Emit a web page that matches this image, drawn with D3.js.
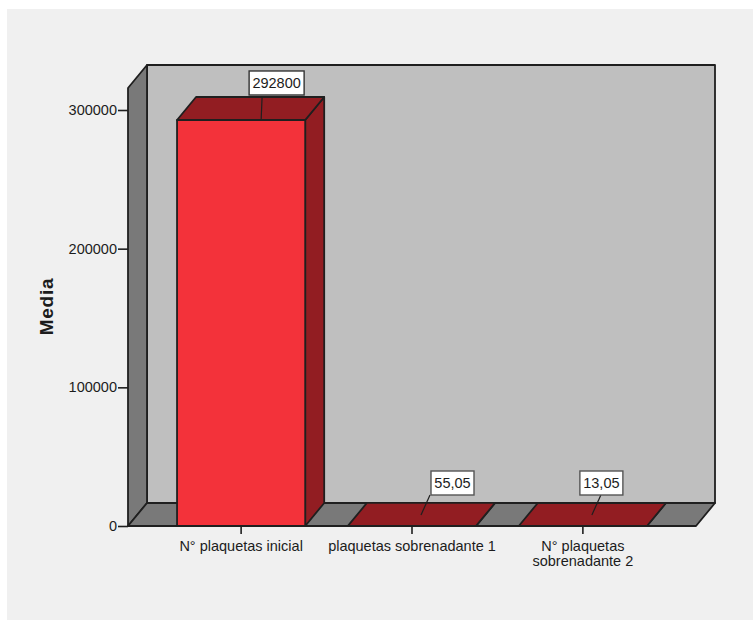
<!DOCTYPE html>
<html>
<head>
<meta charset="utf-8">
<script src="https://cdn.jsdelivr.net/npm/d3@7"></script>
<style>
  html, body { margin: 0; padding: 0; background: #fff; }
  text { font-family: "Liberation Sans", Arial, sans-serif; fill: #1c1c1c; }
</style>
</head>
<body>
<svg id="chart" width="753" height="620" style="display:block"></svg>
<script>
// Mean values per platelet measurement
const categories = ["N° plaquetas inicial", "plaquetas sobrenadante 1", "N° plaquetas sobrenadante 2"];
const categoryLines = [["N° plaquetas inicial"], ["plaquetas sobrenadante 1"], ["N° plaquetas", "sobrenadante 2"]];
const means = [292800, 55.05, 13.05];
const meanLabels = ["292800", "55,05", "13,05"];
const yTicks = [0, 100000, 200000, 300000];
const yTitle = "Media";

const ink = "#1f1f1f";
const wallFill = "#bfbfbf", sideFill = "#797979";
const frontFill = "#f3323a", shadeFill = "#921d22";
const labelSize = 14.5;

// Oblique projection offset of the 3D box
const depthX = 19, depthY = -23;

const svg = d3.select("#chart");
svg.append("rect").attr("x", 7).attr("y", 9).attr("width", 746).attr("height", 611).attr("fill", "#f0f0f0");

const y = d3.scaleLinear().domain([0, 300000]).range([526, 110]);
const x = d3.scaleBand().domain(categories).range([128, 696]).paddingInner(0.25).paddingOuter(0.287);

const leftEdge = x.range()[0], rightEdge = x.range()[1], base = y(0);
const boxTop = y(300000) - 22; // box top edge at the front

const poly = (pts, fill, sw = 1.8) => svg.append("polygon")
  .attr("points", pts.map(p => p.join(",")).join(" "))
  .attr("fill", fill).attr("stroke", ink).attr("stroke-width", sw).attr("stroke-linejoin", "round");

// Back wall, side wall, floor
poly([[leftEdge + depthX, boxTop + depthY], [rightEdge + depthX, boxTop + depthY], [rightEdge + depthX, base + depthY], [leftEdge + depthX, base + depthY]], wallFill);
poly([[leftEdge, boxTop], [leftEdge + depthX, boxTop + depthY], [leftEdge + depthX, base + depthY], [leftEdge, base]], sideFill);
poly([[leftEdge, base], [leftEdge + depthX, base + depthY], [rightEdge + depthX, base + depthY], [rightEdge, base]], sideFill);

// Bars: front face, right side and top face
categories.forEach((c, i) => {
  const x0 = x(c), x1 = x0 + x.bandwidth(), yTop = y(means[i]);
  poly([[x1, yTop], [x1 + depthX, yTop + depthY], [x1 + depthX, base + depthY], [x1, base]], shadeFill);
  poly([[x0, yTop], [x0 + depthX, yTop + depthY], [x1 + depthX, yTop + depthY], [x1, yTop]], shadeFill);
  poly([[x0, yTop], [x1, yTop], [x1, base], [x0, base]], frontFill);
});

// Value callouts: a leader from the bar up to a white box
const tall = v => y(v) < base - 50;
categories.forEach((c, i) => {
  const cx = x(c) + x.bandwidth() / 2, yTop = y(means[i]);
  const big = tall(means[i]);
  const w = big ? 55 : 43;
  const boxX = big ? cx + 8 : cx + (i === 1 ? 19 : -3);
  const boxY = big ? yTop - 49 : 471;
  const leader = big
    ? [[cx + 20, yTop], [cx + 21, yTop - 24]]
    : [[cx + 9, base - 11], [cx + 18, boxY + 24]];
  svg.append("line")
    .attr("x1", leader[0][0]).attr("y1", leader[0][1])
    .attr("x2", leader[1][0]).attr("y2", leader[1][1])
    .attr("stroke", ink).attr("stroke-width", 1.2);
  svg.append("rect").attr("x", boxX).attr("y", boxY).attr("width", w).attr("height", 24)
    .attr("fill", "#fff").attr("stroke", big ? "#333" : "#555").attr("stroke-width", 1.4);
  svg.append("text").attr("x", boxX + w / 2).attr("y", boxY + 17)
    .attr("text-anchor", "middle").attr("font-size", labelSize).text(meanLabels[i]);
});

// Value axis
const yAxis = d3.axisLeft(y).tickValues(yTicks).tickSize(10).tickPadding(1).tickFormat(d3.format("d"));
const gy = svg.append("g").attr("transform", `translate(${leftEdge},0)`).call(yAxis);
gy.select(".domain").remove();
gy.selectAll("line").attr("stroke", ink).attr("stroke-width", 1.6);
gy.selectAll("text").attr("font-size", labelSize).attr("font-family", "Liberation Sans").attr("fill", "#1c1c1c");

// Category axis with wrapped labels
const xAxis = d3.axisBottom(x).tickSize(8).tickFormat("");
const gx = svg.append("g").attr("transform", `translate(0,${base})`).call(xAxis);
gx.select(".domain").remove();
gx.selectAll("line").attr("stroke", ink).attr("stroke-width", 1.6);
categories.forEach((c, i) => {
  const t = svg.append("text").attr("text-anchor", "middle").attr("font-size", labelSize);
  categoryLines[i].forEach((ln, j) => {
    t.append("tspan").attr("x", x(c) + x.bandwidth() / 2).attr("y", 551 + j * 14.5).text(ln);
  });
});

// Axis title
svg.append("text").attr("transform", "translate(53,306.5) rotate(-90)")
  .attr("text-anchor", "middle").attr("font-size", 19).attr("letter-spacing", 0.7)
  .attr("font-weight", "bold").attr("fill", "#111").text(yTitle);
</script>
</body>
</html>
